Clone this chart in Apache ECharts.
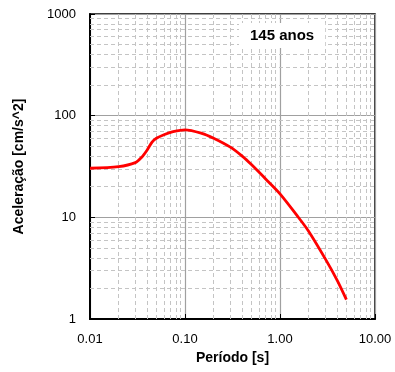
<!DOCTYPE html>
<html>
<head>
<meta charset="utf-8">
<script src="https://cdn.jsdelivr.net/npm/echarts@6/dist/echarts.min.js"></script>
<style>html,body{margin:0;padding:0;background:#fff}#c{width:395px;height:372px}</style>
</head>
<body>
<div id="c"></div>
<script>
const periods = [0.01, 0.02, 0.03, 0.035, 0.04, 0.045, 0.05, 0.06, 0.075, 0.1, 0.15, 0.2, 0.3, 0.4, 0.5, 0.75, 1.0, 1.5, 2.0, 3.0, 4.0, 5.0];
const accel   = [30.4, 31.5, 34.5, 39, 46, 55, 60, 65, 69.5, 72.5, 67, 60, 49, 40, 33, 22.5, 17, 10.5, 7.3, 3.9, 2.4, 1.55];
const xTickLabels = ['0.01', '0.10', '1.00', '10.00'];
const yTickLabels = ['1', '10', '100', '1000'];
const annotation = '145 anos';

const xMinor = [], yMinor = [];
[0.01, 0.1, 1].forEach(d => { for (let k = 2; k <= 9; k++) xMinor.push(+(d * k).toPrecision(3)); });
[1, 10, 100].forEach(d => { for (let k = 2; k <= 9; k++) yMinor.push(d * k); });

const chart = echarts.init(document.getElementById('c'));
const font = 'Liberation Sans, Arial, sans-serif';
chart.setOption({
  animation: false,
  grid: { left: 90, right: 20, top: 14, bottom: 53, show: true, borderColor: '#000', borderWidth: 1.5 },
  xAxis: {
    type: 'log', logBase: 10, min: 0.01, max: 10,
    name: 'Período [s]', nameLocation: 'middle', nameGap: 30,
    nameTextStyle: { fontFamily: font, fontWeight: 'bold', fontSize: 14, color: '#000' },
    axisLine: { lineStyle: { color: '#000', width: 2 } },
    axisTick: { inside: true, length: 5, lineStyle: { color: '#000' } },
    axisLabel: { fontFamily: font, fontSize: 13, color: '#000', margin: 14,
      formatter: v => { const i = Math.round(Math.log10(v)) + 2; return xTickLabels[i] !== undefined ? xTickLabels[i] : ''; } },
    splitLine: { show: true, lineStyle: { color: '#a0a0a0', width: 1.2 } }
  },
  yAxis: {
    type: 'log', logBase: 10, min: 1, max: 1000,
    name: 'Aceleração [cm/s^2]', nameLocation: 'middle', nameGap: 64,
    nameTextStyle: { fontFamily: font, fontWeight: 'bold', fontSize: 14, color: '#000' },
    axisLine: { lineStyle: { color: '#000', width: 2 } },
    axisTick: { inside: true, length: 5, lineStyle: { color: '#000' } },
    axisLabel: { fontFamily: font, fontSize: 13, color: '#000', margin: 14,
      formatter: v => { const i = Math.round(Math.log10(v)); return yTickLabels[i] !== undefined ? yTickLabels[i] : ''; } },
    splitLine: { show: true, lineStyle: { color: '#a0a0a0', width: 1.2 } }
  },
  series: [
    {
      type: 'line', data: periods.map((p, i) => [p, accel[i]]), symbol: 'none', silent: true,
      lineStyle: { opacity: 0 }, z: 1,
      markLine: {
        silent: true, symbol: 'none', label: { show: false }, animation: false,
        lineStyle: { color: '#c4c4c4', type: [4, 3], width: 1 },
        data: xMinor.map(v => ({ xAxis: v })).concat(yMinor.map(v => ({ yAxis: v })))
      }
    },
    {
      type: 'line', data: periods.map((p, i) => [p, accel[i]]), symbol: 'none', smooth: 0.3, z: 5,
      lineStyle: { color: '#ff0000', width: 2.8 }
    }
  ],
  graphic: [{
    type: 'text', left: 239, top: 23, z: 10,
    style: { text: annotation, fontFamily: font, fontWeight: 'bold', fontSize: 15, fill: '#000',
      backgroundColor: '#fff', padding: [5, 11] }
  }]
});
</script>
</body>
</html>
